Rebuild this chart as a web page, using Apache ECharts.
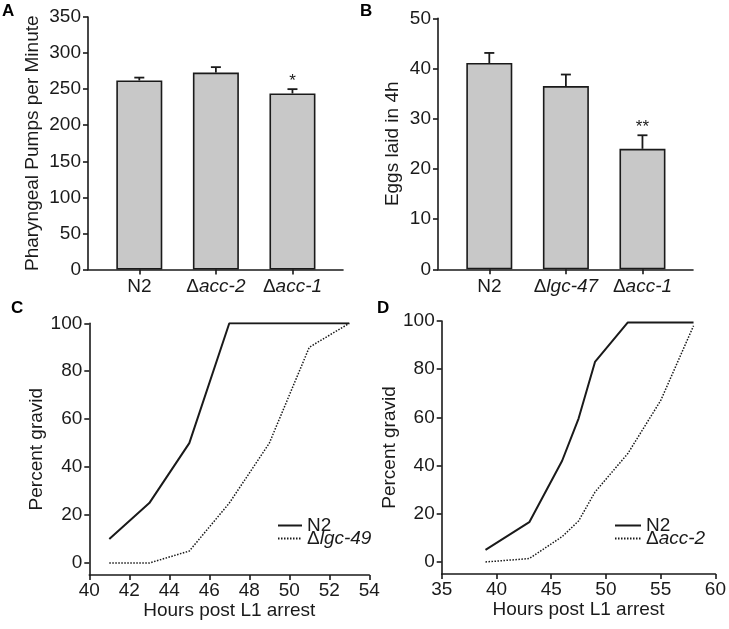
<!DOCTYPE html>
<html>
<head>
<meta charset="utf-8">
<script src="https://cdn.jsdelivr.net/npm/echarts@6/dist/echarts.min.js"></script>
<style>
  html,body{margin:0;padding:0;background:#fff;}
  #main{width:729px;height:629px;}
</style>
</head>
<body>
<div id="main"></div>
<script>
// panel A - pharyngeal pumping
var catsA=['N2','Δacc-2','Δacc-1'];
var pumpsMean=[262,273,244];
var pumpsErr=[4,7.5,6];
var pumpsSig=['','','*'];

// panel B - egg laying
var catsB=['N2','Δlgc-47','Δacc-1'];
var eggsMean=[41.1,36.5,24.0];
var eggsErr=[2.0,2.3,2.7];
var eggsSig=['','','**'];

// panel C - development time
var hoursC_N2=[41,43,45,47,53];
var gravidC_N2=[10,25,50,100,100];
var hoursC_lgc=[41,43,45,47,49,51,53];
var gravidC_lgc=[0,0,5,25,50,90,100];

// panel D
var hoursD_N2=[39,43,46,47.5,49,52,58];
var gravidD_N2=[5,16.5,42,59.5,83,99.4,99.4];
var hoursD_acc=[39,43,46,47.5,49,52,55,58];
var gravidD_acc=[0,1.4,10.5,17,29,45,67,98];

var percentTicks=[0,20,40,60,80,100];

var font='"Liberation Sans", Arial, Helvetica, sans-serif';
var ink='#1a1a1a';

function gene(s){
  if(s.charAt(0)=='Δ') return '{n|Δ}{i|'+s.slice(1)+'}';
  return '{n|'+s+'}';
}
var richTxt={
  n:{fontFamily:font,fontSize:19,color:ink},
  i:{fontFamily:font,fontSize:19,color:ink,fontStyle:'italic'}
};
var richLeg={
  n:{fontFamily:font,fontSize:19,color:ink},
  i:{fontFamily:font,fontSize:19,color:ink,fontStyle:'italic'}
};

function pairs(xs,ys){
  var out=[];
  for(var i=0;i<xs.length;i++) out.push([xs[i],ys[i]]);
  return out;
}

var axLine={show:true,onZero:false,lineStyle:{color:ink,width:1.6}};
var axTick={show:true,length:5,lineStyle:{color:ink,width:1.6}};

function barX(idx,cats){
  return {
    type:'value',gridIndex:idx,min:0.33,max:3.66,
    splitLine:{show:false},
    axisLine:axLine,
    axisTick:{show:true,length:5,lineStyle:{color:ink,width:1.6},customValues:[1,2,3]},
    axisLabel:{margin:8,customValues:[1,2,3],rich:richTxt,
      formatter:function(v){return gene(cats[Math.round(v)-1]);}}
  };
}

function errSeries(idx,mean,err,sig){
  var d=[];
  for(var i=0;i<mean.length;i++) d.push([i+1,mean[i],err[i]]);
  return {
    type:'custom',xAxisIndex:idx,yAxisIndex:idx,z:5,
    data:d,
    encode:{x:0,y:1},
    renderItem:function(params,api){
      var x=api.value(0),m=api.value(1),e=api.value(2);
      var base=api.coord([x,m]);
      var top=api.coord([x,m+e]);
      var st={stroke:ink,lineWidth:1.8};
      return {type:'group',children:[
        {type:'line',shape:{x1:base[0],y1:base[1],x2:top[0],y2:top[1]},style:st},
        {type:'line',shape:{x1:top[0]-5,y1:top[1],x2:top[0]+5,y2:top[1]},style:st},
        {type:'text',x:top[0],y:top[1]-8,style:{text:sig[params.dataIndex],
          fontFamily:font,fontSize:17,fill:ink,align:'center',verticalAlign:'middle'}}
      ]};
    }
  };
}

function barSeries(idx,mean){
  var d=[];
  for(var i=0;i<mean.length;i++) d.push([i+1,mean[i]]);
  return {
    type:'bar',xAxisIndex:idx,yAxisIndex:idx,barWidth:46,
    data:d,
    itemStyle:{color:'#c8c8c8',borderColor:ink,borderWidth:1.6},
    silent:true
  };
}

var option={
  animation:false,
  textStyle:{fontFamily:font,color:ink},
  graphic:[
    {type:'text',left:2,top:3,style:{text:'A',fontFamily:font,fontSize:17,fontWeight:'bold',fill:'#000'}},
    {type:'text',left:360,top:3,style:{text:'B',fontFamily:font,fontSize:17,fontWeight:'bold',fill:'#000'}},
    {type:'text',left:11,top:300,style:{text:'C',fontFamily:font,fontSize:17,fontWeight:'bold',fill:'#000'}},
    {type:'text',left:377,top:300,style:{text:'D',fontFamily:font,fontSize:17,fontWeight:'bold',fill:'#000'}}
  ],
  grid:[
    {left:88,top:17,width:255,height:252.5},
    {left:438,top:18.3,width:255,height:251},
    {left:89.3,top:323.3,width:280,height:251.7},
    {left:441.7,top:321,width:274,height:253}
  ],
  legend:[
    {orient:'vertical',left:272,top:511,itemWidth:24,itemHeight:10,itemGap:-6,
      data:['N2','Δlgc-49'],
      itemStyle:{opacity:0},
      textStyle:{rich:richLeg},
      formatter:function(n){return gene(n);}},
    {orient:'vertical',left:609,top:511,itemWidth:26,itemHeight:10,itemGap:-6,
      data:['N2 ','Δacc-2'],
      itemStyle:{opacity:0},
      textStyle:{rich:richLeg},
      formatter:function(n){return gene(n.trim());}}
  ],
  xAxis:[
    barX(0,catsA),
    barX(1,catsB),
    {type:'value',gridIndex:2,min:40,max:54,interval:2,
      splitLine:{show:false},axisLine:axLine,axisTick:axTick,
      axisLabel:{margin:6,fontSize:19,color:ink,fontFamily:font},
      name:'Hours post L1 arrest',nameLocation:'middle',nameGap:24,
      nameTextStyle:{fontSize:19,color:ink,fontFamily:font}},
    {type:'value',gridIndex:3,min:35,max:60,interval:5,
      splitLine:{show:false},axisLine:axLine,axisTick:axTick,
      axisLabel:{margin:6,fontSize:19,color:ink,fontFamily:font},
      name:'Hours post L1 arrest',nameLocation:'middle',nameGap:24,
      nameTextStyle:{fontSize:19,color:ink,fontFamily:font}}
  ],
  yAxis:[
    {type:'value',gridIndex:0,min:0,max:350,interval:50,
      splitLine:{show:false},axisLine:axLine,axisTick:axTick,
      axisLabel:{margin:7,fontSize:19,color:ink,fontFamily:font},
      name:'Pharyngeal Pumps per Minute',nameLocation:'middle',nameGap:46,
      nameTextStyle:{fontSize:19,color:ink,fontFamily:font}},
    {type:'value',gridIndex:1,min:0,max:50,interval:10,
      splitLine:{show:false},axisLine:axLine,axisTick:axTick,
      axisLabel:{margin:7,fontSize:19,color:ink,fontFamily:font},
      name:'Eggs laid in 4h',nameLocation:'middle',nameGap:36,
      nameTextStyle:{fontSize:19,color:ink,fontFamily:font}},
    {type:'value',gridIndex:2,min:-5,max:100,
      splitLine:{show:false},axisLine:axLine,
      axisTick:{show:true,length:5,lineStyle:{color:ink,width:1.6},customValues:percentTicks},
      axisLabel:{margin:7,fontSize:19,color:ink,fontFamily:font,customValues:percentTicks},
      name:'Percent gravid',nameLocation:'middle',nameGap:42,
      nameTextStyle:{fontSize:19,color:ink,fontFamily:font}},
    {type:'value',gridIndex:3,min:-5,max:100,
      splitLine:{show:false},axisLine:axLine,
      axisTick:{show:true,length:5,lineStyle:{color:ink,width:1.6},customValues:percentTicks},
      axisLabel:{margin:7,fontSize:19,color:ink,fontFamily:font,customValues:percentTicks},
      name:'Percent gravid',nameLocation:'middle',nameGap:31,
      nameTextStyle:{fontSize:19,color:ink,fontFamily:font}}
  ],
  series:[
    barSeries(0,pumpsMean),
    errSeries(0,pumpsMean,pumpsErr,pumpsSig),
    barSeries(1,eggsMean),
    errSeries(1,eggsMean,eggsErr,eggsSig),
    {name:'N2',type:'line',xAxisIndex:2,yAxisIndex:2,symbol:'none',
      data:pairs(hoursC_N2,gravidC_N2),
      lineStyle:{color:ink,width:2},itemStyle:{color:ink}},
    {name:'Δlgc-49',type:'line',xAxisIndex:2,yAxisIndex:2,symbol:'none',
      data:pairs(hoursC_lgc,gravidC_lgc),
      lineStyle:{color:ink,width:1.5,type:[1.5,1.5]},itemStyle:{color:ink}},
    {name:'N2 ',type:'line',xAxisIndex:3,yAxisIndex:3,symbol:'none',
      data:pairs(hoursD_N2,gravidD_N2),
      lineStyle:{color:ink,width:2},itemStyle:{color:ink}},
    {name:'Δacc-2',type:'line',xAxisIndex:3,yAxisIndex:3,symbol:'none',
      data:pairs(hoursD_acc,gravidD_acc),
      lineStyle:{color:ink,width:1.5,type:[1.5,1.5]},itemStyle:{color:ink}}
  ]
};

var chart=echarts.init(document.getElementById('main'));
chart.setOption(option);
</script>
</body>
</html>
